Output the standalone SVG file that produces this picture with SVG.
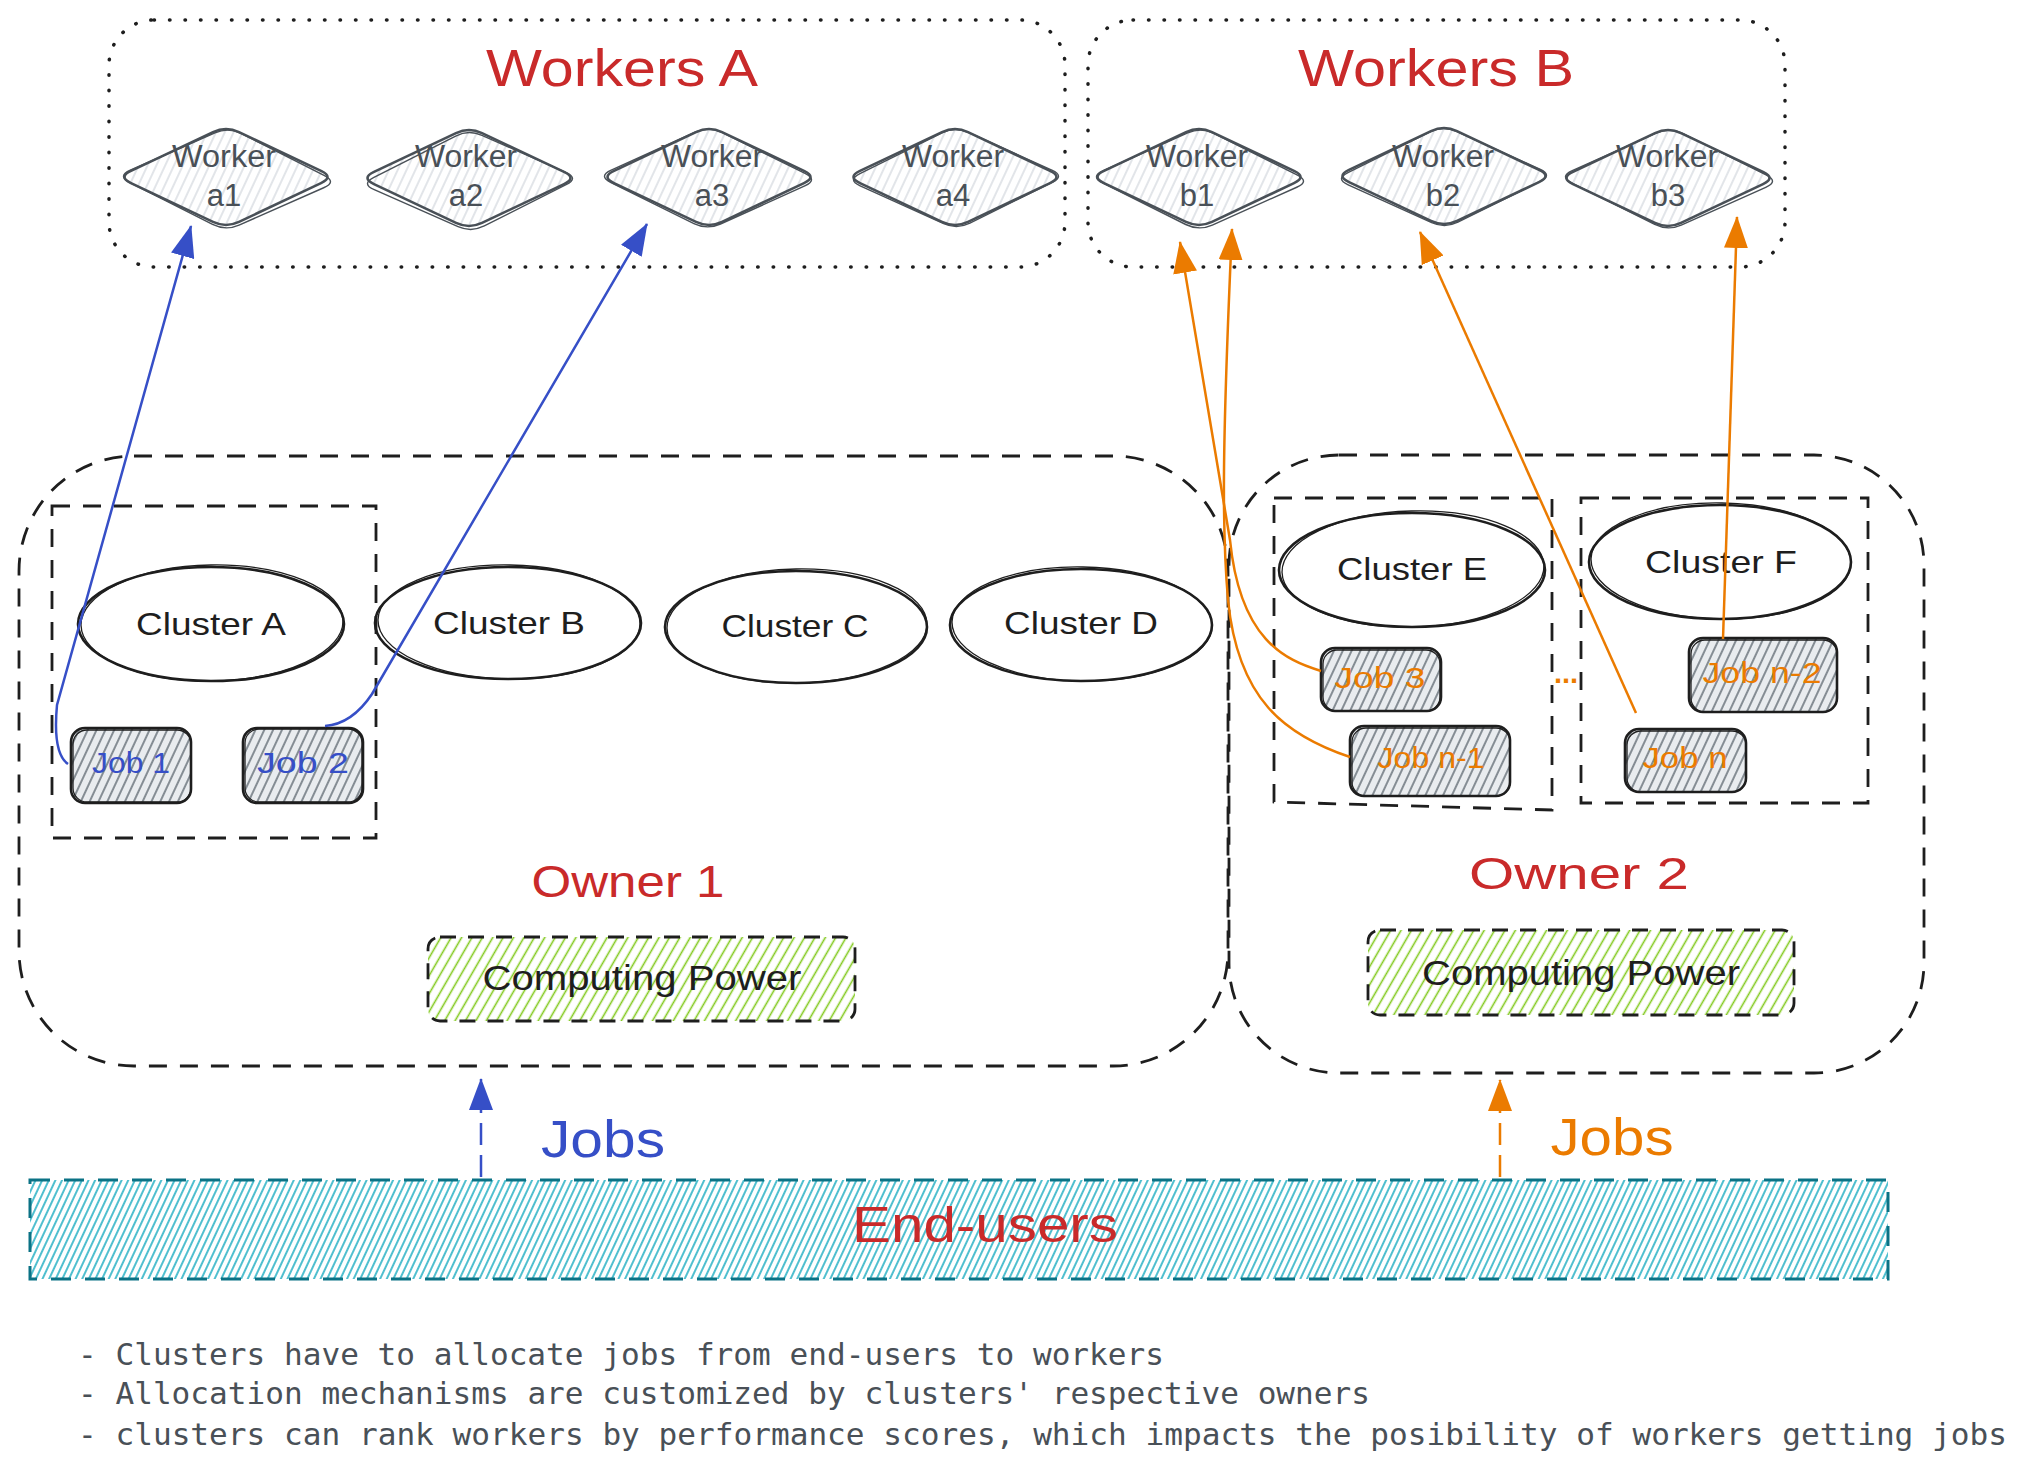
<svg xmlns="http://www.w3.org/2000/svg" xmlns:xlink="http://www.w3.org/1999/xlink" width="2033" height="1471" viewBox="0 0 2033 1471">
<style>
  .hand { font-family: "Liberation Sans", "DejaVu Sans", sans-serif; }
  .dotbox { fill: none; stroke: #1e1e1e; stroke-width: 3.5; stroke-dasharray: 0.5 15; stroke-linecap: round; }
  .dash { fill: none; stroke: #1e1e1e; stroke-width: 2.8; stroke-dasharray: 18 13; }
  .worker { fill: url(#hDia); stroke: #495057; stroke-width: 2.6; }
  .wsketch { fill: none; stroke: #495057; stroke-width: 1.4; }
  .wtext { fill: #495057; font-size: 31px; text-anchor: middle; }
  .cluster { fill: none; stroke: #1e1e1e; stroke-width: 2.6; }
  .csketch { fill: none; stroke: #1e1e1e; stroke-width: 1.3; }
  .ctext { fill: #1e1e1e; font-size: 32px; text-anchor: middle; }
  .job { fill: url(#hJob); stroke: #1e1e1e; stroke-width: 2.6; }
  .jsketch { fill: none; stroke: #1e1e1e; stroke-width: 1.3; }
  .jb { fill: #364fc7; font-size: 29px; text-anchor: middle; }
  .jo { fill: #eb7b00; font-size: 29px; text-anchor: middle; }
  .title { fill: #c92a2a; font-size: 52px; text-anchor: middle; }
  .owner { fill: #c92a2a; font-size: 44px; text-anchor: middle; }
  .cp { fill: url(#hGreen); stroke: #1e1e1e; stroke-width: 2.8; stroke-dasharray: 16 12; }
  .cptext { fill: #1e1e1e; font-size: 35px; text-anchor: middle; }
  .blue { fill: none; stroke: #364fc7; stroke-width: 2.5; }
  .orange { fill: none; stroke: #eb7b00; stroke-width: 2.5; }
  .note { fill: #495057; font-family: "DejaVu Sans Mono", "Liberation Mono", monospace; font-size: 31px; }
</style>
<defs>
  <pattern id="hDia" width="8" height="8" patternUnits="userSpaceOnUse" patternTransform="rotate(25)">
    <line x1="4" y1="0" x2="4" y2="8" stroke="#ced4da" stroke-width="1.2"/>
  </pattern>
  <pattern id="hJob" width="8" height="8" patternUnits="userSpaceOnUse" patternTransform="rotate(25)">
    <rect width="8" height="8" fill="#e9ecef"/>
    <line x1="4" y1="0" x2="4" y2="8" stroke="#6c757d" stroke-width="1.6"/>
  </pattern>
  <pattern id="hGreen" width="9" height="9" patternUnits="userSpaceOnUse" patternTransform="rotate(30)">
    <line x1="4.5" y1="0" x2="4.5" y2="9" stroke="#82c91e" stroke-width="1.6"/>
  </pattern>
  <pattern id="hCyan" width="6" height="6" patternUnits="userSpaceOnUse" patternTransform="rotate(25)">
    <line x1="3" y1="0" x2="3" y2="6" stroke="#15aabf" stroke-width="1.5"/>
  </pattern>
  <path id="diamond" d="M -95 -6.1 L -13 -44.9 Q 0 -51 13 -44.9 L 95 -6.1 Q 108 0 95 6.1 L 13 44.9 Q 0 51 -13 44.9 L -95 6.1 Q -108 0 -95 -6.1 Z"/>
  <marker id="ahBlue" viewBox="0 0 32 24" refX="31" refY="12" markerWidth="32" markerHeight="24" markerUnits="userSpaceOnUse" orient="auto">
    <path d="M0 0 L32 12 L0 24 Z" fill="#364fc7"/>
  </marker>
  <marker id="ahOrange" viewBox="0 0 32 24" refX="31" refY="12" markerWidth="32" markerHeight="24" markerUnits="userSpaceOnUse" orient="auto">
    <path d="M0 0 L32 12 L0 24 Z" fill="#eb7b00"/>
  </marker>
</defs>

<rect width="2033" height="1471" fill="#ffffff"/>

<!-- Containers -->
<g id="workers-a">
  <rect class="dotbox" x="109" y="20" width="956" height="247" rx="45"/>
  <text class="hand title" x="622" y="86" textLength="272" lengthAdjust="spacingAndGlyphs">Workers A</text>
</g>
<g id="workers-b">
  <rect class="dotbox" x="1088" y="20" width="697" height="247" rx="45"/>
  <text class="hand title" x="1436" y="86" textLength="276" lengthAdjust="spacingAndGlyphs">Workers B</text>
</g>
<g id="owner-1">
  <rect class="dash" x="19" y="456" width="1209" height="610" rx="115"/>
  <text class="hand owner" x="628" y="897" textLength="193" lengthAdjust="spacingAndGlyphs">Owner 1</text>
</g>
<g id="owner-2">
  <rect class="dash" x="1229" y="455" width="695" height="618" rx="110"/>
  <text class="hand owner" x="1579" y="889" textLength="220" lengthAdjust="spacingAndGlyphs">Owner 2</text>
</g>
<g id="group-cluster-a">
  <rect class="dash" x="52" y="506" width="324" height="332"/>
</g>
<g id="group-cluster-e">
  <path class="dash" d="M 1274 498 L 1552 498 L 1552 810 L 1274 802 Z"/>
</g>
<g id="group-cluster-f">
  <rect class="dash" x="1581" y="498" width="287" height="305"/>
</g>

<!-- Workers -->
<g id="worker-a1">
  <use href="#diamond" class="worker" transform="translate(226,177)"/>
  <use href="#diamond" class="wsketch" transform="translate(227,179) rotate(1.5) scale(1.02)"/>
  <text class="hand wtext" x="224" y="167" textLength="104" lengthAdjust="spacingAndGlyphs">Worker</text>
  <text class="hand wtext" x="224" y="206">a1</text>
</g>
<g id="worker-a2">
  <use href="#diamond" class="worker" transform="translate(469,178)"/>
  <use href="#diamond" class="wsketch" transform="translate(470,181) rotate(-1.5) scale(1.01)"/>
  <text class="hand wtext" x="466" y="167" textLength="102" lengthAdjust="spacingAndGlyphs">Worker</text>
  <text class="hand wtext" x="466" y="206">a2</text>
</g>
<g id="worker-a3">
  <use href="#diamond" class="worker" transform="translate(709,177)"/>
  <use href="#diamond" class="wsketch" transform="translate(708,178) rotate(1) scale(1.02)"/>
  <text class="hand wtext" x="712" y="167" textLength="102" lengthAdjust="spacingAndGlyphs">Worker</text>
  <text class="hand wtext" x="712" y="206">a3</text>
</g>
<g id="worker-a4">
  <use href="#diamond" class="worker" transform="translate(955,177)"/>
  <use href="#diamond" class="wsketch" transform="translate(956,178) rotate(-1) scale(1.01)"/>
  <text class="hand wtext" x="953" y="167" textLength="102" lengthAdjust="spacingAndGlyphs">Worker</text>
  <text class="hand wtext" x="953" y="206">a4</text>
</g>
<g id="worker-b1">
  <use href="#diamond" class="worker" transform="translate(1199,177)"/>
  <use href="#diamond" class="wsketch" transform="translate(1200,179) rotate(1.2) scale(1.02)"/>
  <text class="hand wtext" x="1197" y="167" textLength="102" lengthAdjust="spacingAndGlyphs">Worker</text>
  <text class="hand wtext" x="1197" y="206">b1</text>
</g>
<g id="worker-b2">
  <use href="#diamond" class="worker" transform="translate(1444,176)"/>
  <use href="#diamond" class="wsketch" transform="translate(1444,177) rotate(-1) scale(1.01)"/>
  <text class="hand wtext" x="1443" y="167" textLength="102" lengthAdjust="spacingAndGlyphs">Worker</text>
  <text class="hand wtext" x="1443" y="206">b2</text>
</g>
<g id="worker-b3">
  <use href="#diamond" class="worker" transform="translate(1668,178)"/>
  <use href="#diamond" class="wsketch" transform="translate(1669,179) rotate(1.3) scale(1.02)"/>
  <text class="hand wtext" x="1667" y="167" textLength="102" lengthAdjust="spacingAndGlyphs">Worker</text>
  <text class="hand wtext" x="1668" y="206">b3</text>
</g>

<!-- Clusters -->
<g id="cluster-a">
  <ellipse class="cluster" cx="211" cy="624" rx="133" ry="57"/>
  <ellipse class="csketch" cx="212" cy="623" rx="131" ry="58" transform="rotate(-1 212 623)"/>
  <text class="hand ctext" x="211" y="635" textLength="150" lengthAdjust="spacingAndGlyphs">Cluster A</text>
</g>
<g id="cluster-b">
  <ellipse class="cluster" cx="508" cy="623" rx="133" ry="56"/>
  <ellipse class="csketch" cx="509" cy="622" rx="131" ry="57" transform="rotate(1 509 622)"/>
  <text class="hand ctext" x="509" y="634" textLength="152" lengthAdjust="spacingAndGlyphs">Cluster B</text>
</g>
<g id="cluster-c">
  <ellipse class="cluster" cx="796" cy="627" rx="131" ry="56"/>
  <ellipse class="csketch" cx="797" cy="626" rx="130" ry="57" transform="rotate(-1 797 626)"/>
  <text class="hand ctext" x="795" y="637" textLength="147" lengthAdjust="spacingAndGlyphs">Cluster C</text>
</g>
<g id="cluster-d">
  <ellipse class="cluster" cx="1081" cy="625" rx="131" ry="56"/>
  <ellipse class="csketch" cx="1082" cy="624" rx="130" ry="57" transform="rotate(1 1082 624)"/>
  <text class="hand ctext" x="1081" y="634" textLength="154" lengthAdjust="spacingAndGlyphs">Cluster D</text>
</g>
<g id="cluster-e">
  <ellipse class="cluster" cx="1412" cy="570" rx="133" ry="57"/>
  <ellipse class="csketch" cx="1413" cy="569" rx="131" ry="58" transform="rotate(-1.5 1413 569)"/>
  <text class="hand ctext" x="1412" y="580" textLength="150" lengthAdjust="spacingAndGlyphs">Cluster E</text>
</g>
<g id="cluster-f">
  <ellipse class="cluster" cx="1720" cy="562" rx="131" ry="57"/>
  <ellipse class="csketch" cx="1721" cy="561" rx="130" ry="58" transform="rotate(1 1721 561)"/>
  <text class="hand ctext" x="1721" y="573" textLength="152" lengthAdjust="spacingAndGlyphs">Cluster F</text>
</g>

<!-- Jobs -->
<g id="job-1">
  <rect class="job" x="71" y="728" width="120" height="75" rx="14"/>
  <rect class="jsketch" x="73" y="730" width="118" height="72" rx="14"/>
  <text class="hand jb" x="131" y="773" textLength="78" lengthAdjust="spacingAndGlyphs">Job 1</text>
</g>
<g id="job-2">
  <rect class="job" x="243" y="728" width="120" height="75" rx="14"/>
  <rect class="jsketch" x="245" y="729" width="117" height="73" rx="14"/>
  <text class="hand jb" x="303" y="773" textLength="92" lengthAdjust="spacingAndGlyphs">Job 2</text>
</g>
<g id="job-3">
  <rect class="job" x="1321" y="648" width="120" height="63" rx="14"/>
  <rect class="jsketch" x="1323" y="650" width="117" height="61" rx="14"/>
  <text class="hand jo" x="1380" y="688" textLength="91" lengthAdjust="spacingAndGlyphs">Job 3</text>
</g>
<g id="job-n-1">
  <rect class="job" x="1350" y="726" width="160" height="70" rx="14"/>
  <rect class="jsketch" x="1352" y="728" width="158" height="68" rx="14"/>
  <text class="hand jo" x="1431" y="768" textLength="107" lengthAdjust="spacingAndGlyphs">Job n-1</text>
</g>
<g id="job-n">
  <rect class="job" x="1625" y="729" width="121" height="63" rx="14"/>
  <rect class="jsketch" x="1627" y="731" width="119" height="61" rx="14"/>
  <text class="hand jo" x="1685" y="768" textLength="85" lengthAdjust="spacingAndGlyphs">Job n</text>
</g>
<g id="job-n-2">
  <rect class="job" x="1689" y="638" width="148" height="74" rx="14"/>
  <rect class="jsketch" x="1691" y="640" width="146" height="72" rx="14"/>
  <text class="hand jo" x="1762" y="683" textLength="119" lengthAdjust="spacingAndGlyphs">Job n-2</text>
</g>
<g id="ellipsis">
  <text class="hand jo" x="1566" y="683" font-weight="bold">...</text>
</g>

<!-- Computing power -->
<g id="computing-power-1">
  <rect class="cp" x="428" y="937" width="427" height="84" rx="12"/>
  <text class="hand cptext" x="642" y="990" textLength="319" lengthAdjust="spacingAndGlyphs">Computing Power</text>
</g>
<g id="computing-power-2">
  <rect class="cp" x="1368" y="930" width="426" height="85" rx="12"/>
  <text class="hand cptext" x="1581" y="985" textLength="318" lengthAdjust="spacingAndGlyphs">Computing Power</text>
</g>

<!-- End-users -->
<g id="end-users">
  <rect x="30" y="1180" width="1858" height="99" fill="url(#hCyan)" stroke="#0b7285" stroke-width="3" stroke-dasharray="20 14"/>
  <text class="hand" x="985" y="1242" fill="#c92a2a" font-size="50" text-anchor="middle" textLength="266" lengthAdjust="spacingAndGlyphs">End-users</text>
</g>

<!-- Connectors -->
<g id="connectors">
  <path class="blue" d="M 68 764 C 58 757 54 737 57 705 L 191 226" marker-end="url(#ahBlue)"/>
  <path class="blue" d="M 325 726 Q 352 724 372 694 L 647 224" marker-end="url(#ahBlue)"/>
  <path class="orange" d="M 1321 671 C 1285 660 1240 640 1230 540 L 1180 242" marker-end="url(#ahOrange)"/>
  <path class="orange" d="M 1350 757 C 1285 735 1238 700 1228 600 C 1222 530 1222 450 1232 229" marker-end="url(#ahOrange)"/>
  <path class="orange" d="M 1636 713 L 1420 232" marker-end="url(#ahOrange)"/>
  <path class="orange" d="M 1723 639 L 1737 217" marker-end="url(#ahOrange)"/>
  <path class="blue" d="M 481 1177 L 481 1079" stroke-dasharray="22 10" marker-end="url(#ahBlue)"/>
  <path class="orange" d="M 1500 1177 L 1500 1080" stroke-dasharray="22 10" marker-end="url(#ahOrange)"/>
  <text class="hand" x="603" y="1157" fill="#364fc7" font-size="52" text-anchor="middle" textLength="124" lengthAdjust="spacingAndGlyphs">Jobs</text>
  <text class="hand" x="1612" y="1155" fill="#eb7b00" font-size="52" text-anchor="middle" textLength="123" lengthAdjust="spacingAndGlyphs">Jobs</text>
</g>

<!-- Notes -->
<g id="notes">
  <text class="note" x="78" y="1365" textLength="1086" lengthAdjust="spacingAndGlyphs">- Clusters have to allocate jobs from end-users to workers</text>
  <text class="note" x="78" y="1404" textLength="1292" lengthAdjust="spacingAndGlyphs">- Allocation mechanisms are customized by clusters' respective owners</text>
  <text class="note" x="78" y="1445" textLength="1929" lengthAdjust="spacingAndGlyphs">- clusters can rank workers by performance scores, which impacts the posibility of workers getting jobs</text>
</g>
</svg>
